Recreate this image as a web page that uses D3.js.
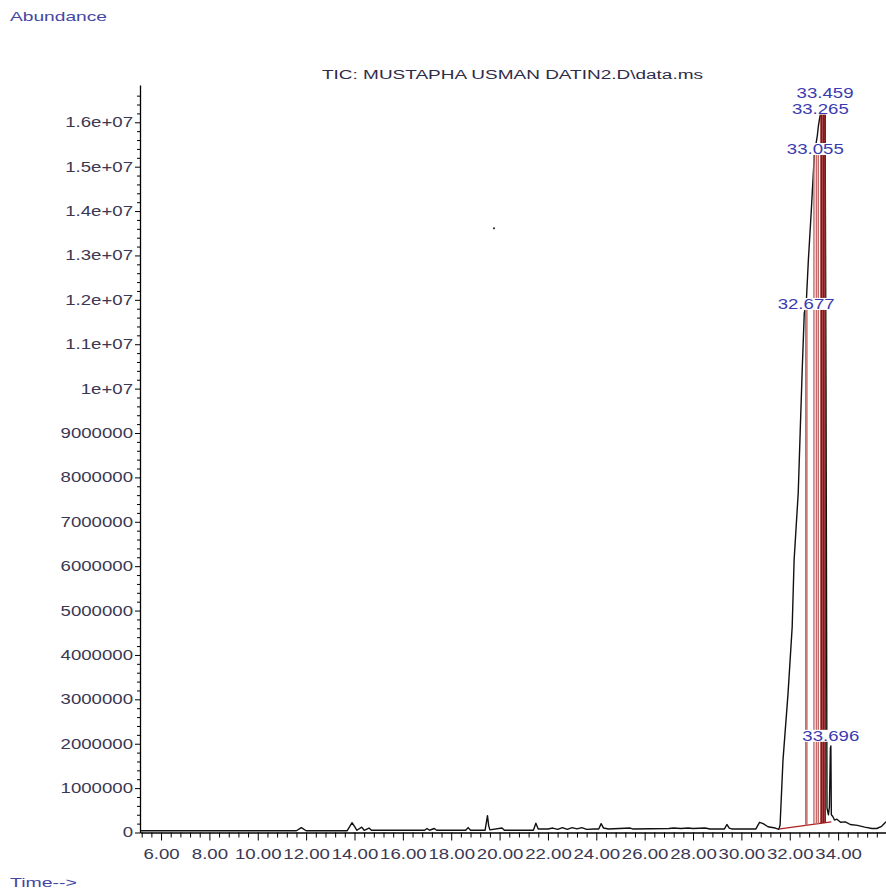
<!DOCTYPE html>
<html><head><meta charset="utf-8">
<script src="https://cdn.jsdelivr.net/npm/d3@7"></script>
<style>body{margin:0;background:#fff}svg{display:block}text{font-family:"Liberation Sans",Arial,sans-serif}</style>
</head><body>
<script>
// ---- data ----
const times = [5.15,6.0,8.0,10.0,11.6,11.8,12.0,13.7,13.9,14.0,14.1,14.3,14.4,14.6,14.7,16.0,16.9,17.0,17.1,17.3,17.4,18.6,18.7,18.8,19.4,19.5,19.55,19.6,20.1,20.2,21.4,21.5,21.6,22.0,22.2,22.4,22.6,22.8,23.0,23.2,23.4,23.6,23.9,24.1,24.2,24.3,24.5,25.4,25.5,27.0,27.2,27.5,27.8,28.0,28.5,28.7,29.3,29.4,29.5,29.6,30.6,30.75,30.9,31.1,31.4,31.55,31.6,31.72,31.93,32.10,32.18,32.35,32.43,32.52,32.60,32.68,32.77,32.89,33.02,33.14,33.18,33.27,33.40,33.46,33.50,33.54,33.60,33.64,33.68,33.70,33.72,33.78,33.85,33.95,34.1,34.3,34.5,34.8,35.1,35.4,35.6,35.8,35.98];
const abundance = [4e4,4e4,4e4,4e4,4e4,1.1e5,4e4,4e4,2.2e5,1.4e5,5e4,1.2e5,5e4,1.0e5,5e4,5e4,5e4,9e4,5e4,9e4,5e4,5e4,1.1e5,5e4,5e4,3.8e5,1.5e5,6e4,1.0e5,5e4,5e4,2.1e5,8e4,8e4,1.0e5,7e4,1.1e5,7e4,1.1e5,8e4,1.1e5,7e4,8e4,8e4,2.0e5,1.0e5,8e4,1.0e5,8e4,9e4,1.0e5,9e4,1.0e5,9e4,1.0e5,8e4,8e4,1.8e5,1.0e5,8e4,8e4,2.3e5,2.0e5,1.3e5,1.0e5,7e4,1.7e5,1.63e6,3.14e6,4.63e6,6.14e6,7.65e6,9.0e6,1.05e7,1.17e7,1.19e7,1.29e7,1.40e7,1.53e7,1.57e7,1.59e7,1.62e7,1.63e7,1.63e7,1.0e7,5.5e5,4.0e5,5.8e5,1.9e6,1.95e6,4.0e5,3.6e5,2.8e5,3.0e5,2.3e5,2.4e5,1.8e5,1.6e5,1.2e5,9e4,9e4,1.4e5,2.4e5];
const peakTimes = [32.677, 33.055, 33.265, 33.459, 33.696];
const peakLabels = ["32.677", "33.055", "33.265", "33.459", "33.696"];
const peakHeights = [1.175e7, 1.524e7, 1.615e7, 1.63e7, 2.02e6];
const redTimes = [32.66, 32.71, 33.00, 33.10, 33.18, 33.30, 33.38, 33.46];
const redTops = [1.19e7, 1.19e7, 1.53e7, 1.55e7, 1.55e7, 1.63e7, 1.63e7, 1.63e7];
const redDark = [false, false, false, false, false, true, true, true];
const baseTimes = [31.6, 33.72];
const baseValues = [8e4, 2.4e5];
const strayTime = [19.77], strayValue = [1.361e7];
const xMajor = [6,8,10,12,14,16,18,20,22,24,26,28,30,32,34];
const yMajor = [0,1e6,2e6,3e6,4e6,5e6,6e6,7e6,8e6,9e6,1e7,1.1e7,1.2e7,1.3e7,1.4e7,1.5e7,1.6e7];
const title = "TIC: MUSTAPHA USMAN DATIN2.D\\data.ms";

// ---- layout ----
const W = 886, H = 895;
const svg = d3.select("body").append("svg").attr("width", W).attr("height", H);
const x = d3.scaleLinear().domain([5.13, 35.98]).range([140, 886]);
const y = d3.scaleLinear().domain([0, 1.684e7]).range([832.5, 85]);
const SX = 1.33;
const tickCol = "#3a3852", labCol = "#4646a6", peakCol = "#3b3bb0";

function fmtY(v){
  if (v < 1e7) return String(Math.round(v));
  const m = v / 1e7;
  return (Math.round(m*10)/10) + "e+07";
}

// minor ticks
const xMinor = d3.range(5.2, 35.99, 0.4).filter(t => Math.abs(t/2 - Math.round(t/2)) > 1e-6);
const yMinor = d3.range(0, 1.68e7, 2e5).filter(v => Math.abs(v/1e6 - Math.round(v/1e6)) > 1e-6);

const gy = svg.append("g").attr("transform", "translate(140,0)");
gy.append("g").call(d3.axisLeft(y).tickValues(yMinor).tickSize(3).tickFormat(""))
  .call(g => g.select(".domain").remove());
gy.append("g").call(d3.axisLeft(y).tickValues(yMajor).tickSize(5).tickSizeOuter(0).tickFormat(fmtY))
  .call(g => g.select(".domain").attr("stroke", "#000").attr("stroke-width", 1.3))
  .call(g => g.selectAll("text").attr("fill", tickCol).attr("font-size", 14)
      .attr("x", -7 / SX).attr("transform", `scale(${SX},1)`));
gy.selectAll("line").attr("stroke", "#000");

const gx = svg.append("g").attr("transform", "translate(0,832.5)");
gx.append("g").call(d3.axisBottom(x).tickValues(xMinor).tickSize(5).tickFormat(""))
  .call(g => g.select(".domain").remove());
gx.append("g").call(d3.axisBottom(x).tickValues(xMajor).tickSize(8).tickSizeOuter(0).tickFormat(d3.format(".2f")))
  .call(g => g.select(".domain").attr("stroke", "#000").attr("stroke-width", 1.5))
  .call(g => g.selectAll(".tick").each(function(d){
      d3.select(this).select("text").attr("fill", tickCol).attr("font-size", 14)
        .attr("y", 0).attr("dy", 0)
        .attr("transform", `translate(0,26) scale(${SX},1)`);
  }));
gx.selectAll("line").attr("stroke", "#000");

// titles
svg.append("text").attr("x", 10).attr("y", 21).attr("font-size", 13).attr("fill", labCol)
  .attr("textLength", 97).attr("lengthAdjust", "spacingAndGlyphs").text("Abundance");
svg.append("text").attr("x", 10).attr("y", 887).attr("font-size", 13).attr("fill", labCol)
  .attr("textLength", 67).attr("lengthAdjust", "spacingAndGlyphs").text("Time-->");
svg.append("text").attr("x", 322).attr("y", 79).attr("font-size", 12).attr("fill", "#2e2c48")
  .attr("textLength", 381).attr("lengthAdjust", "spacingAndGlyphs").text(title);

// signal
const pts = times.map((t, i) => [t, abundance[i]]);
svg.append("path").datum(pts)
  .attr("d", d3.line().x(d => x(d[0])).y(d => y(d[1])))
  .attr("fill", "none").attr("stroke", "#111").attr("stroke-width", 1.4).attr("stroke-linejoin", "round");

svg.append("circle").attr("cx", x(strayTime[0])).attr("cy", y(strayValue[0])).attr("r", 1.1).attr("fill", "#333");

// integration baseline + red lines
const baseAt = d3.scaleLinear().domain(baseTimes).range(baseValues);
svg.append("line").attr("x1", x(baseTimes[0])).attr("y1", y(baseValues[0]))
  .attr("x2", x(baseTimes[1])).attr("y2", y(baseValues[1]))
  .attr("stroke", "#b02020").attr("stroke-width", 1.2);
redTimes.forEach((t, i) => {
  svg.append("line").attr("x1", x(t)).attr("x2", x(t))
    .attr("y1", y(baseAt(t))).attr("y2", y(redTops[i]))
    .attr("stroke", redDark[i] ? "#8e1515" : "#c36b6b")
    .attr("stroke-width", redDark[i] ? 1.8 : 1.4);
});

// peak labels with white background, stacked so neighbouring labels don't collide
let prev = null;
const lab = svg.append("g");
peakTimes.forEach((t, i) => {
  let cx = x(t), cy = y(peakHeights[i]) - 7;
  if (prev && Math.abs(cx - prev.cx) < 58 && Math.abs(cy - prev.cy) < 16) cy = prev.cy - 16;
  const g = lab.append("g").attr("transform", `translate(${cx},${cy})`);
  g.append("rect").attr("x", -30).attr("y", -6).attr("width", 60).attr("height", 12).attr("fill", "#fff");
  g.append("text").attr("text-anchor", "middle").attr("dy", "0.36em").attr("font-size", 14)
    .attr("fill", peakCol).attr("transform", `scale(${SX},1)`).text(peakLabels[i]);
  prev = {cx, cy};
});
</script>
</body></html>
